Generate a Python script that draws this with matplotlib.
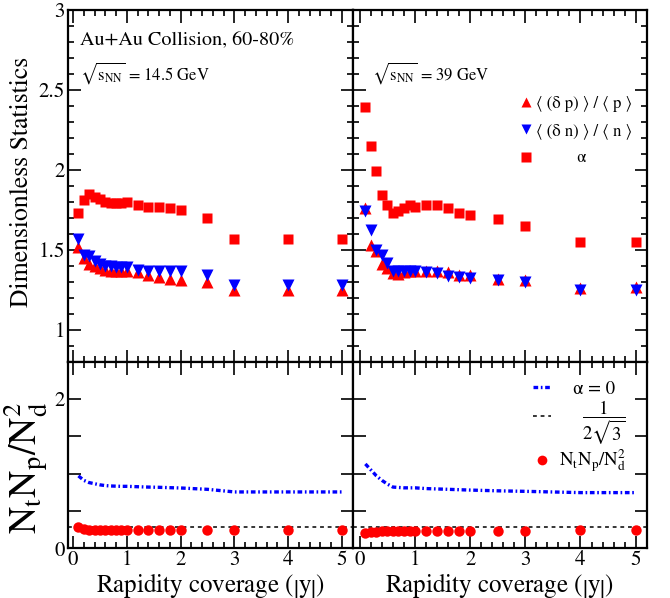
import matplotlib
matplotlib.use('Agg')
import matplotlib.pyplot as plt
from matplotlib.lines import Line2D
from matplotlib.ticker import MultipleLocator, FormatStrFormatter
import numpy as np

plt.rcParams['font.family'] = ['STIXGeneral', 'DejaVu Serif']
plt.rcParams['mathtext.fontset'] = 'stix'

# DATA
y_cov = [0.1, 0.2, 0.3, 0.4, 0.5, 0.6, 0.7, 0.8, 0.9, 1.0,
         1.2, 1.4, 1.6, 1.8, 2.0, 2.5, 3, 4, 5]

# 14.5 GeV
p_145 = [1.52, 1.45, 1.41, 1.40, 1.385, 1.375, 1.37, 1.365, 1.365, 1.365,
         1.36, 1.34, 1.33, 1.32, 1.31, 1.30, 1.25, 1.25, 1.25]
n_145 = [1.57, 1.47, 1.46, 1.43, 1.41, 1.40, 1.40, 1.39, 1.39, 1.39,
         1.375, 1.37, 1.37, 1.365, 1.365, 1.34, 1.28, 1.28, 1.28]
a_145 = [1.73, 1.81, 1.85, 1.83, 1.82, 1.80, 1.79, 1.79, 1.79, 1.80,
         1.78, 1.77, 1.77, 1.76, 1.75, 1.70, 1.57, 1.57, 1.57]
r0_145 = [0.97, 0.91, 0.88, 0.865, 0.85, 0.84, 0.835, 0.832, 0.83, 0.83,
          0.825, 0.82, 0.817, 0.812, 0.808, 0.79, 0.755, 0.755, 0.755]
r_145 = [0.28, 0.26, 0.245, 0.245, 0.245, 0.245, 0.245, 0.245, 0.245, 0.245,
         0.245, 0.245, 0.245, 0.245, 0.245, 0.245, 0.25, 0.25, 0.25]

# 39 GeV
p_39 = [1.76, 1.53, 1.49, 1.41, 1.385, 1.355, 1.35, 1.36, 1.365, 1.365,
        1.365, 1.365, 1.36, 1.34, 1.34, 1.32, 1.31, 1.26, 1.265]
n_39 = [1.74, 1.625, 1.50, 1.47, 1.42, 1.37, 1.365, 1.365, 1.365, 1.365,
        1.36, 1.355, 1.335, 1.33, 1.325, 1.31, 1.30, 1.25, 1.25]
a_39 = [2.39, 2.15, 1.99, 1.84, 1.78, 1.73, 1.74, 1.76, 1.78, 1.77,
        1.78, 1.78, 1.76, 1.73, 1.72, 1.69, 1.65, 1.55, 1.55]
r0_39 = [1.13, 1.05, 0.97, 0.91, 0.86, 0.82, 0.815, 0.81, 0.81, 0.81,
         0.80, 0.795, 0.79, 0.785, 0.78, 0.77, 0.763, 0.746, 0.746]
r_39 = [0.21, 0.22, 0.225, 0.23, 0.235, 0.235, 0.235, 0.235, 0.235, 0.235,
        0.235, 0.235, 0.235, 0.235, 0.235, 0.235, 0.235, 0.25, 0.25]

energies = ['14.5', '39']
ratio_line = 1 / (2 * np.sqrt(3))

fig = plt.figure(figsize=(6.7, 5.98), dpi=100)

L, M, R = 0.101, 0.5264, 0.9652
B, D, T = 0.0831, 0.3952, 0.9833

ax_tl = fig.add_axes([L, D, M - L, T - D])
ax_tr = fig.add_axes([M, D, R - M, T - D])
ax_bl = fig.add_axes([L, B, M - L, D - B])
ax_br = fig.add_axes([M, B, R - M, D - B])

red = '#ff0000'
blue = '#0000ff'


def style(ax, top):
    ax.tick_params(which='both', direction='in', top=True, right=True,
                   width=1.2, labelsize=15)
    ax.tick_params(which='major', length=9)
    ax.tick_params(which='minor', length=4.5)
    ax.tick_params(axis='y', pad=2)
    ax.tick_params(axis='x', pad=1.5)
    for s in ax.spines.values():
        s.set_linewidth(1.6)
    ax.xaxis.set_major_locator(MultipleLocator(1))
    ax.xaxis.set_minor_locator(MultipleLocator(0.2))
    if top:
        ax.set_ylim(0.8, 3)
        ax.set_yticks([1, 1.5, 2, 2.5, 3])
        ax.set_yticklabels(['1', '1.5', '2', '2.5', '3'])
        ax.yaxis.set_minor_locator(MultipleLocator(0.1))
        ax.tick_params(labelbottom=False)
    else:
        ax.set_ylim(0, 2.5)
        ax.set_yticks([0, 0.5, 1, 1.5, 2])
        ax.set_yticklabels(['0', '', '', '', '2'])
        ax.xaxis.set_major_formatter(FormatStrFormatter('%d'))


def top_panel(ax, p, n, a):
    ax.plot(y_cov, p, '^', color=red, ms=8, ls='none', mec='none')
    ax.plot(y_cov, n, 'v', color=blue, ms=8, ls='none', mec='none')
    ax.plot(y_cov, a, 's', color=red, ms=7.5, ls='none', mec='none')


def bottom_panel(ax, r0, r):
    ax.plot(y_cov, r0, color=blue, lw=2.4, dashes=(1.4, 0.8, 0.5, 0.8))
    ax.axhline(ratio_line, color='black', lw=1.1, dashes=(2.5, 2.5))
    ax.plot(y_cov, r, 'o', color=red, ms=7.5, ls='none', mec='none', zorder=3)


top_panel(ax_tl, p_145, n_145, a_145)
top_panel(ax_tr, p_39, n_39, a_39)
bottom_panel(ax_bl, r0_145, r_145)
bottom_panel(ax_br, r0_39, r_39)

for ax in (ax_tl, ax_bl):
    ax.set_xlim(-0.1, 5.2)
for ax in (ax_tr, ax_br):
    ax.set_xlim(-0.13, 5.2)

style(ax_tl, True)
style(ax_tr, True)
style(ax_bl, False)
style(ax_br, False)
ax_tr.tick_params(labelleft=False)
ax_br.tick_params(labelleft=False)

ax_tl.text(0.043, 0.915, 'Au+Au Collision, 60-80%', transform=ax_tl.transAxes,
           fontsize=14.5, va='center')
ax_tl.text(0.043, 0.82, r'$\sqrt{\mathrm{s}_{\mathrm{NN}}}$ = ' + energies[0] + ' GeV',
           transform=ax_tl.transAxes, fontsize=12, va='center')
ax_tr.text(0.066, 0.82, r'$\sqrt{\mathrm{s}_{\mathrm{NN}}}$ = ' + energies[1] + ' GeV',
           transform=ax_tr.transAxes, fontsize=12, va='center')

top_handles = [
    Line2D([], [], marker='^', color=red, ls='none', ms=7, mec='none'),
    Line2D([], [], marker='v', color=blue, ls='none', ms=7, mec='none'),
    Line2D([], [], marker='s', color=red, ls='none', ms=6.5, mec='none'),
]
top_labels = [
    '\u27e8 (\u03b4 p) \u27e9 / \u27e8 p \u27e9',
    '\u27e8 (\u03b4 n) \u27e9 / \u27e8 n \u27e9',
    '          \u03b1',
]
ax_tr.legend(top_handles, top_labels, loc='upper left', bbox_to_anchor=(0.54, 0.78),
             frameon=False, fontsize=12, handlelength=0.8, handletextpad=0.15,
             labelspacing=0.68, borderpad=0)

bot_handles = [
    Line2D([], [], color=blue, lw=2.4, dashes=(1.4, 0.8, 0.5, 0.8)),
    Line2D([], [], color='black', lw=1.1, dashes=(2.5, 2.5)),
    Line2D([], [], marker='o', color=red, ls='none', ms=7, mec='none'),
]
bot_labels = [
    '   \u03b1 = 0',
    r'     $\dfrac{1}{2\sqrt{3}}$',
    r'$\mathrm{N_tN_p/N_d^2}$',
]
ax_br.legend(bot_handles, bot_labels, loc='upper left', bbox_to_anchor=(0.58, 0.95),
             frameon=False, fontsize=13.5, handlelength=1.0, handletextpad=0.4,
             labelspacing=0.05, borderpad=0)

# axis titles
xlab = r'Rapidity coverage ($\left|\mathrm{y}\right|$)'
fig.text((L + M) / 2, 0.010, xlab, fontsize=18, ha='center', va='baseline')
fig.text((M + R) / 2, 0.010, xlab, fontsize=18, ha='center', va='baseline')
fig.text(0.033, 0.695, 'Dimensionless Statistics', rotation=90, fontsize=18.5,
         ha='center', va='center')
fig.text(0.04, 0.218, r'$\mathrm{N_tN_p/N_d^2}$', rotation=90, fontsize=27,
         ha='center', va='center')

fig.savefig('out.png', dpi=100)
